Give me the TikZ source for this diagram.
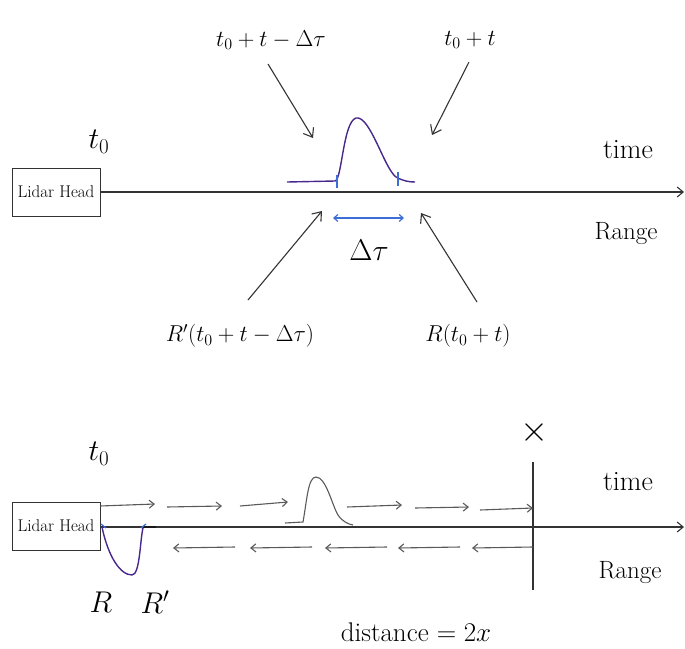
\RequirePackage{fix-cm}
\documentclass[tikz,border=0pt]{standalone}
\usetikzlibrary{arrows.meta}
\begin{document}
\begin{tikzpicture}[x=1pt,y=-1pt,
  ink/.style={draw=black!80, line width=1.1pt},
  barb/.style={ink, -{Straight Barb[length=8pt,width=12pt]}},
  sbarb/.style={draw=black!65, line width=1.1pt, -{Straight Barb[length=5pt,width=8pt]}},
  lbl/.style={font=\fontsize{25}{28}\selectfont, inner sep=2pt},
  tlbl/.style={font=\fontsize{28}{30}\selectfont, inner sep=2pt},
  big/.style={font=\fontsize{30}{34}\selectfont, inner sep=2pt},
  mlbl/.style={font=\fontsize{23}{26}\selectfont, inner sep=3pt},
  headbox/.style={draw=black!80, line width=1pt, minimum width=88pt, minimum height=48pt, inner sep=0pt, font=\fontsize{17}{19}\selectfont},
  pulse/.style={draw={rgb,255:red,72;green,40;blue,140}, line width=1.4pt},
  tick/.style={draw={rgb,255:red,60;green,110;blue,215}, line width=1.2pt}
]
\useasboundingbox (0,0) rectangle (685,648);
% ---------- top panel ----------
\node[headbox] (box1) at (56,192) {Lidar Head};
\coordinate (end1) at (684,192);
\draw[ink, -{Straight Barb[length=6pt,width=10pt]}] (box1.east) -- (end1);
\node[big] (t0a) at (99,142) {$t_0$};
\node[tlbl] (timea) at (628,150) {time};
\node[lbl] (rangea) at (626,234) {Range};
% pulse
\draw[pulse] (287,182) -- (335,181) .. controls (342,180) and (343,122) .. (356,118)
  .. controls (370,115) and (384,168) .. (396,177) .. controls (403,181) and (409,182) .. (415,182);
\draw[tick] (337,175) -- (337,188);
\draw[tick] (398,172) -- (398,186);
\coordinate (da) at (333,218);
\coordinate (db) at (404,218);
\draw[tick, {Straight Barb[length=4pt,width=7pt]}-{Straight Barb[length=4pt,width=7pt]}] (da) -- (db);
\node[big] (dtau) at (369,250) {$\Delta\tau$};
% labels and arrows
\node[mlbl] (lab1) at (271,40) {$t_0+t-\Delta\tau$};
\node[mlbl] (lab2) at (470,40) {$t_0+t$};
\node[mlbl] (lab3) at (240,336) {$R'(t_0+t-\Delta\tau)$};
\node[mlbl] (lab4) at (468,336) {$R(t_0+t)$};
\coordinate (s1) at (268,64);
\coordinate (s2) at (469,62);
\coordinate (s3) at (248,300);
\coordinate (s4) at (477,302);
\coordinate (tip1) at (313,138);
\coordinate (tip2) at (432,135);
\coordinate (tip3) at (322,211);
\coordinate (tip4) at (421,213);
\draw[barb] (s1) -- (tip1);
\draw[barb] (s2) -- (tip2);
\draw[barb] (s3) -- (tip3);
\draw[barb] (s4) -- (tip4);
% ---------- bottom panel ----------
\node[headbox] (box2) at (56,526) {Lidar Head};
\coordinate (end2) at (684,527);
\draw[ink, -{Straight Barb[length=6pt,width=10pt]}] (box2.east |- end2) -- (end2);
\coordinate (vtop) at (533,462);
\coordinate (vbot) at (533,590);
\draw[ink] (vtop) -- (vbot);
\node[font=\fontsize{36}{40}\selectfont, inner sep=0pt] (xlab) at (534,432) {$\times$};
\node[big] (t0b) at (99,454) {$t_0$};
\node[tlbl] (timeb) at (628,482) {time};
\node[lbl] (rangeb) at (630,573) {Range};
% forward arrows
\foreach \a/\ya/\b/\yb in {100/506/155/504, 167/507/222/506, 240/506/288/502, 347/507/402/505, 415/508/469/507, 480/510/533/508}
  \draw[sbarb] (\a,\ya) -- (\b,\yb);
% backward arrows
\foreach \a/\b in {235/173, 312/250, 387/325, 460/398, 533/472}
  \draw[sbarb] (\a,547) -- (\b,548);
% gray pulse
\draw[draw=black!65, line width=1.1pt] (285,523) -- (303,522) .. controls (307,500) and (308,477) .. (316,477)
  .. controls (326,477) and (332,505) .. (338,515) .. controls (343,522) and (348,524) .. (353,525);
% purple dip
\draw[pulse] (102,527) .. controls (108,556) and (120,575) .. (132,575)
  .. controls (140,575) and (140,540) .. (143,528);
\draw[draw=black!90, line width=1.8pt] (143,527) -- (156,527);
\draw[tick] (101,524) -- (106,528);
\draw[tick] (141,528) -- (146,524);
\node[big] (rlab) at (101,602) {$R$};
\node[big] (rplab) at (155,602) {$R'$};
\node[font=\fontsize{27}{30}\selectfont] (dist) at (416,632) {distance $=2x$};
\end{tikzpicture}
\end{document}
